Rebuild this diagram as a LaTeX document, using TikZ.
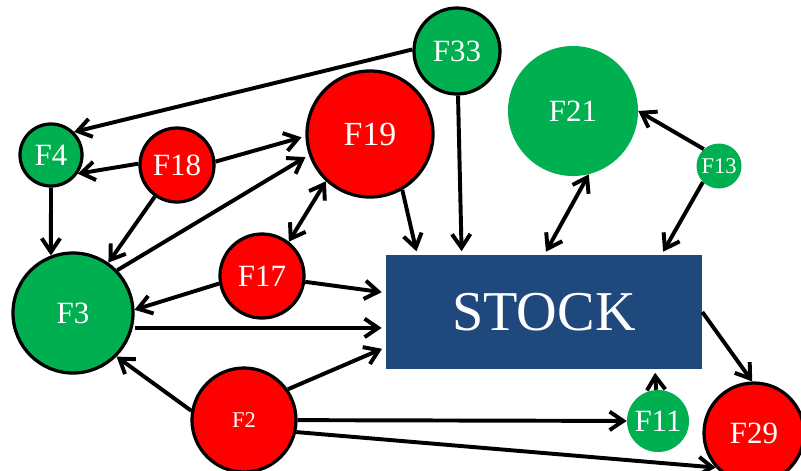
\documentclass[tikz,border=0pt]{standalone}
\usepackage{fontspec}
\setmainfont{Liberation Serif}
\usetikzlibrary{arrows.meta,calc,positioning}
\definecolor{grn}{RGB}{0,176,80}
\definecolor{stockblue}{RGB}{31,73,125}

\begin{document}
\begin{tikzpicture}[x=0.025cm,y=-0.025cm,
  firm/.style={circle,inner sep=0pt,text=white},
  gfirm/.style={firm,fill=grn,draw=black,line width=2.3pt},
  gplain/.style={firm,fill=grn},
  rfirm/.style={firm,fill=red,draw=black,line width=2.3pt},
  big/.style={font=\fontsize{22}{22}\selectfont},
  small/.style={font=\fontsize{16}{16}\selectfont},
  gap/.style={shorten >=0.1cm}]
\clip (0,0) rectangle (801,470);
\node[gfirm,big,minimum size=2.15cm] (F33) at (457,51) {F33};
\node[gplain,big,minimum size=3.25cm] (F21) at (573,111) {F21};
\node[gplain,small,minimum size=1.125cm] (F13) at (719,166) {F13};
\node[gfirm,big,minimum size=1.55cm] (F4) at (51,155) {F4};
\node[rfirm,big,minimum size=1.85cm] (F18) at (177,165) {F18};
\node[rfirm,font=\fontsize{24}{24}\selectfont,minimum size=3.15cm] (F19) at (370,134) {F19};
\node[rfirm,big,minimum size=2.1cm] (F17) at (262,276) {F17};
\node[gfirm,big,minimum size=3.0cm] (F3) at (73,313) {F3};
\node[rfirm,small,minimum size=2.6cm] (F2) at (244,420) {F2};
\node[gplain,big,minimum size=1.55cm] (F11) at (658,421) {F11};
\node[rfirm,big,minimum size=2.5cm] (F29) at (754,433) {F29};
\node[fill=stockblue,text=white,minimum width=7.9cm,minimum height=2.825cm,
  font=\fontsize{40}{40}\selectfont] (STOCK) at (544,312) {STOCK};
\coordinate (T1) at ($(STOCK.north west)!0.10!(STOCK.north east)$);
\coordinate (T2) at ($(STOCK.north west)!0.24!(STOCK.north east)$);
\coordinate (T3) at ($(STOCK.north west)!0.50!(STOCK.north east)$);
\coordinate (T4) at ($(STOCK.north west)!0.87!(STOCK.north east)$);
\coordinate (L1) at ($(STOCK.north west)!0.33!(STOCK.south west)$);
\coordinate (L2) at ($(STOCK.north west)!0.64!(STOCK.south west)$);
\coordinate (L3) at ($(STOCK.north west)!0.81!(STOCK.south west)$);
\coordinate (B1) at ($(STOCK.south west)!0.85!(STOCK.south east)$);
\path[->,>={Straight Barb[length=3.4mm,width=4.6mm]},line width=2.8pt]
(F33.178) edge (F4.45)
(F18.178) edge (F4.-35)
(F18.5) edge[gap] (F19.182)
(F18) edge (F3)
(F4.south) edge (F3.111)
(F3.44) edge[gap] (F19.199)
(F19.227) edge[<->] (F17.52)
(F17.190) edge (F3.3)
(F17) edge[gap] (L1)
(L2 -| F3.east) edge[gap] (L2)
(F2.170) edge (F3.-45)
(F2.35) edge[gap] (L3)
(F2) edge (F11)
(F2.-13) edge (F29.222)
(F19.-60) edge[gap] (T1)
(F33) edge[gap] (T2)
(F21.-76) edge[<->,gap] (T3)
(F13.132) edge (F21.0)
(F13.225) edge[gap] (T4)
(F11) edge[gap] (B1)
(STOCK.east) edge (F29.92);
\end{tikzpicture}
\end{document}
